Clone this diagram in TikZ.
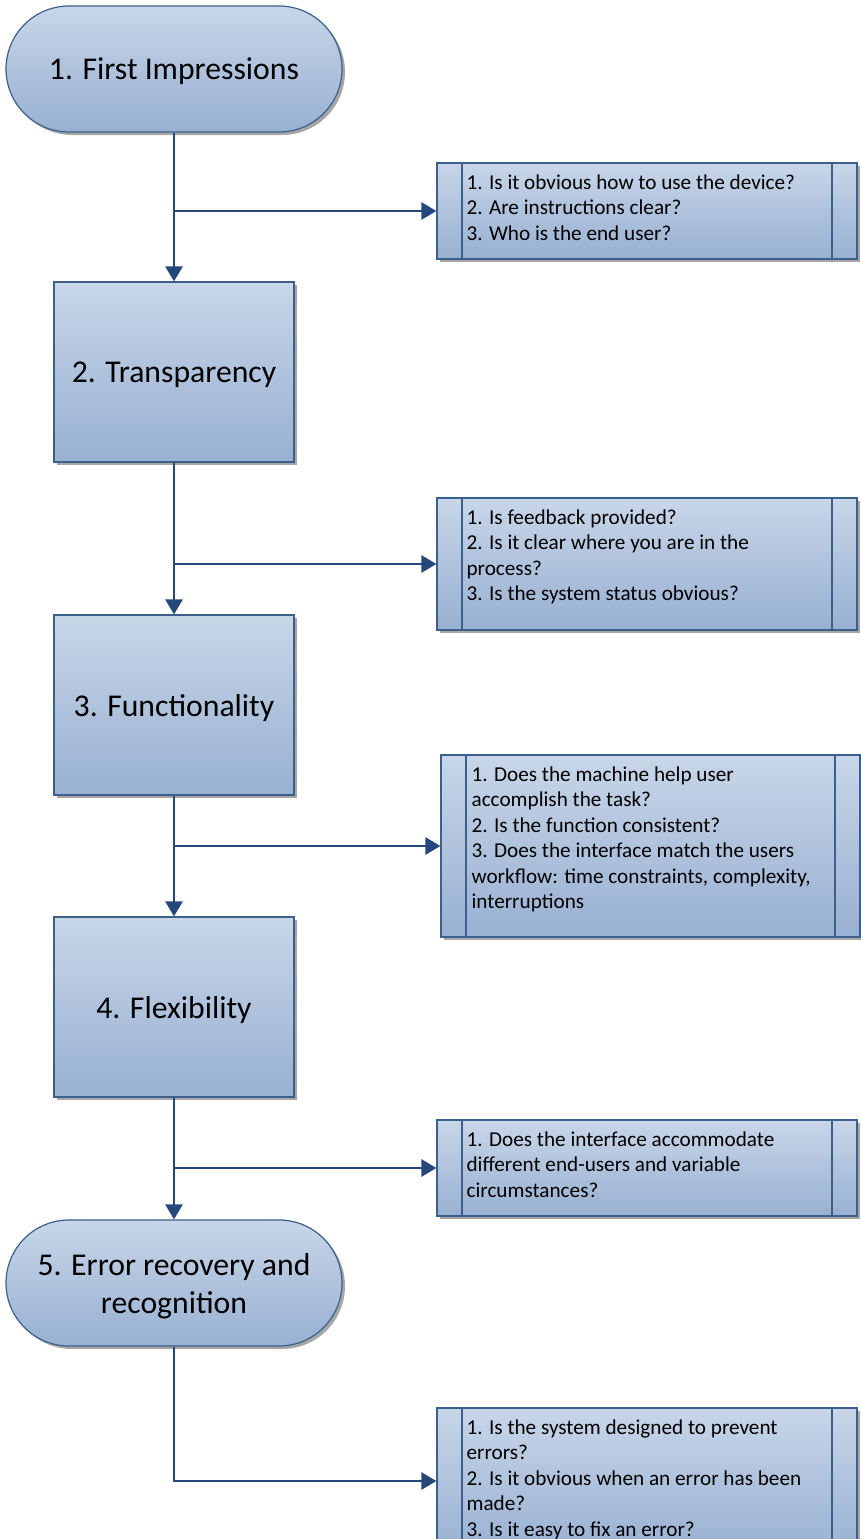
\documentclass[tikz,border=0pt]{standalone}
\usepackage{fontspec}
\setmainfont{Carlito}
\usetikzlibrary{shadows,arrows.meta,calc}
\definecolor{topc}{RGB}{200,214,232}
\definecolor{botc}{RGB}{152,176,210}
\definecolor{bord}{RGB}{60,96,140}
\definecolor{arrc}{RGB}{36,72,124}
\begin{document}
\begin{tikzpicture}[x=1pt,y=-1pt,
 shadebox/.style={top color=topc,bottom color=botc,draw=bord,line width=1.2pt,
   drop shadow={shadow xshift=3pt,shadow yshift=-3pt,fill=black!35,opacity=1}},
 term/.style={shadebox, rounded corners=63pt, minimum width=336pt, minimum height=126pt,
   font=\fontsize{31.7}{38}\selectfont, align=center, inner sep=0pt, text depth=0pt},
 proc/.style={shadebox, minimum width=240pt, minimum height=180pt,
   font=\fontsize{31.7}{38}\selectfont, inner sep=0pt, text depth=0pt},
 callout/.style={shadebox, minimum width=420pt, inner sep=0pt,
   path picture={\draw[bord,line width=1.2pt]
     ([xshift=25pt]path picture bounding box.north west) -- ([xshift=25pt]path picture bounding box.south west)
     ([xshift=-25pt]path picture bounding box.north east) -- ([xshift=-25pt]path picture bounding box.south east);}},
 qtext/.style={anchor=north west, align=left, font=\fontsize{21.2}{25.5}\selectfont, inner sep=0pt},
 arr/.style={draw=arrc, line width=2.8pt, -{Triangle[length=15pt,width=17pt]}}
]
\useasboundingbox (0,0) rectangle (861,1539);
\clip (0,0) rectangle (861,1539);

\node[term] (t1) at (174,69) {1. First Impressions};
\node[proc] (b2) at (174,372) {2. Transparency};
\node[proc] (b3) at (174,705) {3. Functionality};
\node[proc] (b4) at (174,1007) {4. Flexibility};
\node[term] (t5) at (174,1283) {5. Error recovery and\\recognition};

\node[callout, minimum height=96pt] (c1) at (647,211) {};
\node[callout, minimum height=132pt] (c2) at (647,564) {};
\node[callout, minimum width=419pt, minimum height=182pt] (c3) at (650.5,846) {};
\node[callout, minimum height=96pt] (c4) at (647,1168) {};
\node[callout, minimum height=146pt] (c5) at (647,1481) {};

\node[qtext] (q1) at ($(c1.north west)+(30,12)$) {1. Is it obvious how to use the device?\\2. Are instructions clear?\\3. Who is the end user?};
\node[qtext] (q2) at ($(c2.north west)+(30,12)$) {1. Is feedback provided?\\2. Is it clear where you are in the\\process?\\3. Is the system status obvious?};
\node[qtext] (q3) at ($(c3.north west)+(31,12)$) {1. Does the machine help user\\accomplish the task?\\2. Is the function consistent?\\3. Does the interface match the users\\workflow: time constraints, complexity,\\interruptions};
\node[qtext] (q4) at ($(c4.north west)+(30,12)$) {1. Does the interface accommodate\\different end-users and variable\\circumstances?};
\node[qtext] (q5) at ($(c5.north west)+(30,12)$) {1. Is the system designed to prevent\\errors?\\2. Is it obvious when an error has been\\made?\\3. Is it easy to fix an error?};

\draw[arr] (t1) -- (b2);
\draw[arr] (b2) -- (b3);
\draw[arr] (b3) -- (b4);
\draw[arr] (b4) -- (t5);
\draw[arr] (t1.south |- c1.west) -- (c1.west);
\draw[arr] (b2.south |- c2.west) -- (c2.west);
\draw[arr] (b3.south |- c3.west) -- (c3.west);
\draw[arr] (b4.south |- c4.west) -- (c4.west);
\draw[arr] (t5.south) |- (c5.west);
\end{tikzpicture}
\end{document}
